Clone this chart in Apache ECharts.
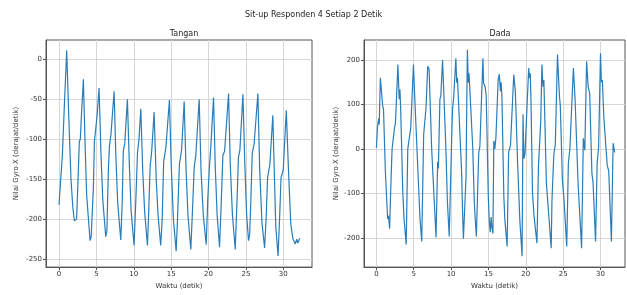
<!DOCTYPE html>
<html>
<head>
<meta charset="utf-8">
<script src="https://cdn.jsdelivr.net/npm/echarts@6/dist/echarts.min.js"></script>
<style>
  html, body { margin: 0; padding: 0; background: #fff; }
  #chart { width: 627px; height: 295px; }
</style>
</head>
<body>
<div id="chart"></div>
<script>
// Tangan (hand) - waktu (s) dan nilai gyro X
var tanganT = [0.0,0.15,0.45,0.75,1.03,1.3,1.6,1.85,2.05,2.35,2.55,2.72,2.85,3.0,3.26,3.5,3.7,3.9,4.15,4.3,4.45,4.6,4.73,4.9,5.1,5.36,5.6,5.85,6.25,6.4,6.6,6.74,6.95,7.37,7.6,7.85,8.26,8.45,8.6,8.8,9.15,9.4,9.65,10.04,10.3,10.5,10.7,10.94,11.2,11.45,11.83,12.0,12.19,12.4,12.72,13.0,13.25,13.6,13.8,14.0,14.3,14.77,15.0,15.3,15.67,15.85,16.1,16.4,16.74,17.0,17.25,17.63,17.85,18.08,18.3,18.75,19.0,19.3,19.69,19.9,20.1,20.3,20.67,20.9,21.15,21.47,21.7,21.92,22.15,22.68,22.9,23.2,23.57,23.8,24.0,24.2,24.6,24.85,25.1,25.35,25.5,25.65,25.85,26.1,26.6,26.85,27.15,27.5,27.7,27.9,28.2,28.6,28.85,29.0,29.3,29.5,29.7,30.0,30.4,30.7,31.0,31.3,31.6,31.8,31.95,32.2];
var tanganV = [-182,-180,-120,-50,11,-70,-150,-185,-202,-200,-150,-103,-100,-70,-25,-110,-170,-195,-227,-222,-220,-160,-104,-103,-70,-36,-115,-175,-222,-215,-140,-109,-94,-40,-120,-180,-226,-180,-115,-105,-50,-130,-190,-233,-170,-117,-100,-62,-140,-190,-233,-190,-134,-115,-66,-150,-195,-233,-200,-128,-110,-51,-130,-200,-240,-200,-132,-113,-53,-140,-195,-238,-190,-136,-120,-50,-140,-195,-232,-175,-138,-110,-48,-135,-195,-235,-180,-120,-115,-43,-130,-195,-238,-180,-123,-113,-44,-130,-195,-227,-219,-180,-117,-106,-43,-140,-205,-236,-200,-148,-132,-70,-160,-210,-246,-200,-148,-138,-64,-140,-206,-225,-231,-225,-230,-224];

// Dada (chest)
var dadaT = [0.0,0.15,0.22,0.3,0.38,0.53,0.75,0.85,0.95,1.2,1.5,1.62,1.77,1.9,2.1,2.25,2.43,2.55,2.88,3.05,3.15,3.25,3.54,3.7,3.8,3.99,4.2,4.45,4.6,4.96,5.2,5.67,5.85,6.07,6.33,6.64,6.87,7.05,7.4,7.75,7.98,8.2,8.3,8.5,8.62,8.86,9.3,9.5,9.75,10.1,10.2,10.35,10.64,10.75,10.85,11.4,11.55,11.65,12.0,12.1,12.18,12.3,12.4,12.9,13.1,13.2,13.38,13.7,13.85,14.26,14.35,14.55,14.7,14.98,15.12,15.25,15.35,15.45,15.6,15.72,15.85,16.0,16.3,16.45,16.6,16.7,16.8,17.06,17.2,17.5,17.7,17.95,18.39,18.6,18.9,19.2,19.5,19.63,19.75,19.9,20.1,20.39,20.48,20.6,20.7,20.9,21.1,21.49,21.7,22.0,22.16,22.3,22.42,22.76,23.4,23.5,23.75,23.95,24.24,24.5,24.62,24.9,25.1,25.48,25.7,25.9,26.37,26.6,27.0,27.47,27.7,27.9,28.14,28.35,28.55,28.85,29.0,29.34,29.55,29.75,30.0,30.12,30.25,30.45,30.9,31.1,31.46,31.69,31.9];
var dadaV = [2,50,57,68,55,160,157,95,90,-50,-157,-150,-179,-100,0,-3,48,58,190,112,134,90,-101,-157,-160,-215,0,30,48,190,90,-93,-160,-208,33,92,186,180,0,-120,-199,-29,-44,112,118,200,2,-117,-197,38,92,117,204,149,160,-49,-150,-202,-62,105,223,149,170,2,-117,-150,-197,-8,5,204,148,140,120,-107,-165,-187,-153,-175,-190,18,0,25,156,168,130,150,120,-107,-160,-219,-8,8,167,130,-30,-160,-241,78,-22,-10,71,182,160,170,103,-100,-150,-212,-37,62,190,140,155,-78,-223,-117,-13,10,212,120,97,-70,-110,-219,-32,0,182,110,-78,-223,24,-3,197,140,125,-55,-75,-208,-32,5,215,150,155,70,-37,-49,-208,13,-8];

var xTicks = [0, 5, 10, 15, 20, 25, 30];
var tanganTicks = [-250, -200, -150, -100, -50, 0];
var dadaTicks = [-200, -100, 0, 100, 200];

function pairs(t, v) {
  var out = [];
  for (var i = 0; i < t.length; i++) out.push([t[i], v[i]]);
  return out;
}

var font = 'DejaVu Sans';
var txt = '#333';

function xAxisOf(idx, min, max) {
  return {
    gridIndex: idx, type: 'value', min: min, max: max,
    name: 'Waktu (detik)', nameLocation: 'middle', nameGap: 13,
    nameTextStyle: { fontFamily: font, fontSize: 7, color: txt },
    axisLine: { show: true, onZero: false, lineStyle: { color: '#555', width: 1 } },
    axisTick: { show: true, length: 3, customValues: xTicks, lineStyle: { color: '#555' } },
    axisLabel: { customValues: xTicks, fontFamily: font, fontSize: 7, color: txt, margin: 4 },
    splitLine: { show: true, lineStyle: { color: '#d6d6d6', width: 1 } }
  };
}

function yAxisOf(idx, min, max, ticks, gap) {
  return {
    gridIndex: idx, type: 'value', min: min, max: max,
    name: 'Nilai Gyro X (derajat/detik)', nameLocation: 'middle', nameGap: gap, nameRotate: 90,
    nameTextStyle: { fontFamily: font, fontSize: 7, color: txt },
    axisLine: { show: true, onZero: false, lineStyle: { color: '#555', width: 1 } },
    axisTick: { show: true, length: 3, customValues: ticks, lineStyle: { color: '#555' } },
    axisLabel: { customValues: ticks, fontFamily: font, fontSize: 7, color: txt, margin: 4 },
    splitLine: { show: true, lineStyle: { color: '#d6d6d6', width: 1 } }
  };
}

var chart = echarts.init(document.getElementById('chart'), null, { renderer: 'canvas' });
chart.setOption({
  animation: false,
  backgroundColor: '#fff',
  title: [
    { text: 'Sit-up Responden 4 Setiap 2 Detik', left: 'center', top: 6,
      textStyle: { fontFamily: font, fontSize: 8, fontWeight: 'normal', color: '#222' } },
    { text: 'Tangan', left: 179, top: 25, textAlign: 'center',
      textStyle: { fontFamily: font, fontSize: 8, fontWeight: 'normal', color: '#222' } },
    { text: 'Dada', left: 495, top: 25, textAlign: 'center',
      textStyle: { fontFamily: font, fontSize: 8, fontWeight: 'normal', color: '#222' } }
  ],
  grid: [
    { left: 46, top: 40, width: 266, height: 231, show: true, borderColor: '#555', borderWidth: 1 },
    { left: 364, top: 40, width: 261, height: 231, show: true, borderColor: '#555', borderWidth: 1 }
  ],
  xAxis: [
    xAxisOf(0, -1.74, 33.84),
    xAxisOf(1, -1.66, 33.28)
  ],
  yAxis: [
    yAxisOf(0, -260, 24, tanganTicks, 26),
    yAxisOf(1, -265.6, 244.9, dadaTicks, 24)
  ],
  series: [
    { type: 'line', xAxisIndex: 0, yAxisIndex: 0, data: pairs(tanganT, tanganV),
      showSymbol: false, lineStyle: { color: '#2a7db8', width: 1.2 } },
    { type: 'line', xAxisIndex: 1, yAxisIndex: 1, data: pairs(dadaT, dadaV),
      showSymbol: false, lineStyle: { color: '#2a7db8', width: 1.2 } }
  ]
});
</script>
</body>
</html>
